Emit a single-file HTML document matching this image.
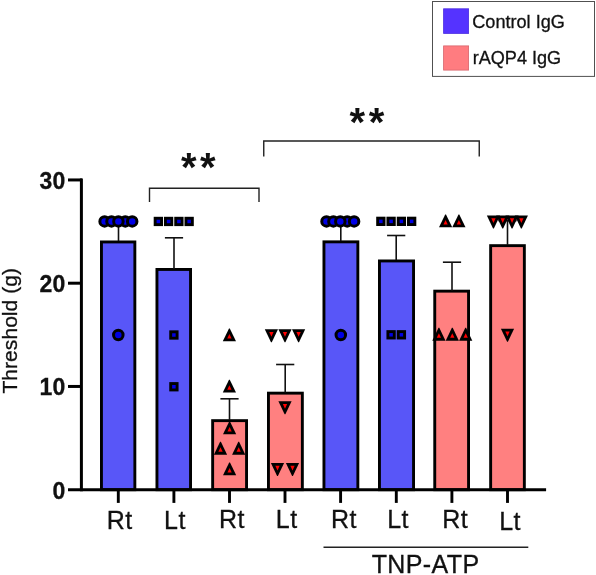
<!DOCTYPE html>
<html><head><meta charset="utf-8"><title>Threshold chart</title>
<style>
html,body{margin:0;padding:0;background:#fff;}
body{width:596px;height:575px;overflow:hidden;font-family:"Liberation Sans",sans-serif;}
svg{display:block;position:absolute;left:0;top:0;}
svg.tx{will-change:transform;}
svg text{font-family:"Liberation Sans",sans-serif;fill:#111;stroke:#111;stroke-width:0.3px;}
</style></head><body>
<svg width="596" height="575" viewBox="0 0 596 575">
<rect x="0" y="0" width="596" height="575" fill="#fff"/>
<rect x="101.45" y="241.95" width="33.40" height="247.75" fill="#5856F8" stroke="#000" stroke-width="2.9"/>
<rect x="156.95" y="269.45" width="33.60" height="220.25" fill="#5856F8" stroke="#000" stroke-width="2.9"/>
<rect x="212.65" y="420.65" width="33.90" height="69.05" fill="#FF8080" stroke="#000" stroke-width="2.9"/>
<rect x="268.45" y="393.15" width="33.90" height="96.55" fill="#FF8080" stroke="#000" stroke-width="2.9"/>
<rect x="323.95" y="241.85" width="33.90" height="247.85" fill="#5856F8" stroke="#000" stroke-width="2.9"/>
<rect x="379.45" y="260.95" width="34.10" height="228.75" fill="#5856F8" stroke="#000" stroke-width="2.9"/>
<rect x="434.75" y="291.15" width="33.80" height="198.55" fill="#FF8080" stroke="#000" stroke-width="2.9"/>
<rect x="490.65" y="245.65" width="33.70" height="244.05" fill="#FF8080" stroke="#000" stroke-width="2.9"/>
<line x1="81.4" y1="178.5" x2="81.4" y2="491.15" stroke="#000" stroke-width="3"/>
<line x1="68" y1="489.7" x2="546.1" y2="489.7" stroke="#000" stroke-width="2.9"/>
<line x1="68" y1="386.45" x2="82" y2="386.45" stroke="#000" stroke-width="3"/>
<line x1="68" y1="283.20" x2="82" y2="283.20" stroke="#000" stroke-width="3"/>
<line x1="68" y1="179.95" x2="82" y2="179.95" stroke="#000" stroke-width="3"/>
<line x1="118.30" y1="489.7" x2="118.30" y2="502.9" stroke="#000" stroke-width="2.9"/>
<line x1="173.90" y1="489.7" x2="173.90" y2="502.9" stroke="#000" stroke-width="2.9"/>
<line x1="229.50" y1="489.7" x2="229.50" y2="502.9" stroke="#000" stroke-width="2.9"/>
<line x1="285.00" y1="489.7" x2="285.00" y2="502.9" stroke="#000" stroke-width="2.9"/>
<line x1="340.60" y1="489.7" x2="340.60" y2="502.9" stroke="#000" stroke-width="2.9"/>
<line x1="396.30" y1="489.7" x2="396.30" y2="502.9" stroke="#000" stroke-width="2.9"/>
<line x1="451.90" y1="489.7" x2="451.90" y2="502.9" stroke="#000" stroke-width="2.9"/>
<line x1="507.50" y1="489.7" x2="507.50" y2="502.9" stroke="#000" stroke-width="2.9"/>
<line x1="118.5" y1="221" x2="118.5" y2="241" stroke="#111" stroke-width="1.6"/>
<line x1="174.0" y1="237.8" x2="174.0" y2="269" stroke="#111" stroke-width="1.6"/>
<line x1="164.9" y1="237.8" x2="183.1" y2="237.8" stroke="#111" stroke-width="1.6"/>
<line x1="229.5" y1="398.8" x2="229.5" y2="420" stroke="#111" stroke-width="1.6"/>
<line x1="220.4" y1="398.8" x2="238.6" y2="398.8" stroke="#111" stroke-width="1.6"/>
<line x1="285.2" y1="364.5" x2="285.2" y2="392.5" stroke="#111" stroke-width="1.6"/>
<line x1="276.09999999999997" y1="364.5" x2="294.3" y2="364.5" stroke="#111" stroke-width="1.6"/>
<line x1="340.8" y1="221" x2="340.8" y2="241" stroke="#111" stroke-width="1.6"/>
<line x1="396.2" y1="235.5" x2="396.2" y2="260" stroke="#111" stroke-width="1.6"/>
<line x1="387.09999999999997" y1="235.5" x2="405.3" y2="235.5" stroke="#111" stroke-width="1.6"/>
<line x1="452.0" y1="262.2" x2="452.0" y2="290.8" stroke="#111" stroke-width="1.6"/>
<line x1="442.9" y1="262.2" x2="461.1" y2="262.2" stroke="#111" stroke-width="1.6"/>
<line x1="507.5" y1="220.6" x2="507.5" y2="245" stroke="#111" stroke-width="1.6"/>
<line x1="498.4" y1="220.6" x2="516.6" y2="220.6" stroke="#111" stroke-width="1.6"/>
<circle cx="104.60" cy="221.45" r="4.75" fill="#0000E4" stroke="#000" stroke-width="3"/>
<circle cx="111.50" cy="221.45" r="4.75" fill="#0000E4" stroke="#000" stroke-width="3"/>
<circle cx="125.30" cy="221.45" r="4.75" fill="#0000E4" stroke="#000" stroke-width="3"/>
<circle cx="118.40" cy="221.45" r="4.75" fill="#0000E4" stroke="#000" stroke-width="3"/>
<circle cx="132.20" cy="221.45" r="4.75" fill="#0000E4" stroke="#000" stroke-width="3"/>
<circle cx="118.30" cy="335.00" r="4.75" fill="#0000E4" stroke="#000" stroke-width="3"/>
<circle cx="326.50" cy="221.45" r="4.75" fill="#0000E4" stroke="#000" stroke-width="3"/>
<circle cx="333.40" cy="221.45" r="4.75" fill="#0000E4" stroke="#000" stroke-width="3"/>
<circle cx="347.20" cy="221.45" r="4.75" fill="#0000E4" stroke="#000" stroke-width="3"/>
<circle cx="340.30" cy="221.45" r="4.75" fill="#0000E4" stroke="#000" stroke-width="3"/>
<circle cx="354.10" cy="221.45" r="4.75" fill="#0000E4" stroke="#000" stroke-width="3"/>
<circle cx="340.80" cy="335.00" r="4.75" fill="#0000E4" stroke="#000" stroke-width="3"/>
<rect x="153.70" y="216.80" width="9.3" height="9.3" fill="#000"/>
<rect x="156.60" y="219.70" width="3.5" height="3.5" fill="#0000E4"/>
<rect x="163.95" y="216.80" width="9.3" height="9.3" fill="#000"/>
<rect x="166.85" y="219.70" width="3.5" height="3.5" fill="#0000E4"/>
<rect x="174.25" y="216.80" width="9.3" height="9.3" fill="#000"/>
<rect x="177.15" y="219.70" width="3.5" height="3.5" fill="#0000E4"/>
<rect x="184.50" y="216.80" width="9.3" height="9.3" fill="#000"/>
<rect x="187.40" y="219.70" width="3.5" height="3.5" fill="#0000E4"/>
<rect x="169.25" y="330.35" width="9.3" height="9.3" fill="#000"/>
<rect x="172.15" y="333.25" width="3.5" height="3.5" fill="#0000E4"/>
<rect x="169.25" y="382.10" width="9.3" height="9.3" fill="#000"/>
<rect x="172.15" y="385.00" width="3.5" height="3.5" fill="#0000E4"/>
<rect x="376.20" y="216.70" width="9.3" height="9.3" fill="#000"/>
<rect x="379.10" y="219.60" width="3.5" height="3.5" fill="#0000E4"/>
<rect x="386.45" y="216.70" width="9.3" height="9.3" fill="#000"/>
<rect x="389.35" y="219.60" width="3.5" height="3.5" fill="#0000E4"/>
<rect x="396.75" y="216.70" width="9.3" height="9.3" fill="#000"/>
<rect x="399.65" y="219.60" width="3.5" height="3.5" fill="#0000E4"/>
<rect x="407.00" y="216.70" width="9.3" height="9.3" fill="#000"/>
<rect x="409.90" y="219.60" width="3.5" height="3.5" fill="#0000E4"/>
<rect x="386.45" y="330.15" width="9.3" height="9.3" fill="#000"/>
<rect x="389.35" y="333.05" width="3.5" height="3.5" fill="#0000E4"/>
<rect x="396.75" y="330.15" width="9.3" height="9.3" fill="#000"/>
<rect x="399.65" y="333.05" width="3.5" height="3.5" fill="#0000E4"/>
<polygon points="222.80,341.35 236.00,341.35 230.40,329.65 229.80,328.45 229.00,328.45 228.40,329.65" fill="#000"/>
<polygon points="227.25,338.45 231.55,338.45 229.40,333.95" fill="#FF0000"/>
<polygon points="222.80,392.60 236.00,392.60 230.40,380.90 229.80,379.70 229.00,379.70 228.40,380.90" fill="#000"/>
<polygon points="227.25,389.70 231.55,389.70 229.40,385.20" fill="#FF0000"/>
<polygon points="223.00,434.35 236.20,434.35 230.60,422.65 230.00,421.45 229.20,421.45 228.60,422.65" fill="#000"/>
<polygon points="227.45,431.45 231.75,431.45 229.60,426.95" fill="#FF0000"/>
<polygon points="213.90,454.65 227.10,454.65 221.50,442.95 220.90,441.75 220.10,441.75 219.50,442.95" fill="#000"/>
<polygon points="218.35,451.75 222.65,451.75 220.50,447.25" fill="#FF0000"/>
<polygon points="232.10,454.65 245.30,454.65 239.70,442.95 239.10,441.75 238.30,441.75 237.70,442.95" fill="#000"/>
<polygon points="236.55,451.75 240.85,451.75 238.70,447.25" fill="#FF0000"/>
<polygon points="223.00,475.35 236.20,475.35 230.60,463.65 230.00,462.45 229.20,462.45 228.60,463.65" fill="#000"/>
<polygon points="227.45,472.45 231.75,472.45 229.60,467.95" fill="#FF0000"/>
<polygon points="264.80,329.20 278.00,329.20 272.40,341.10 271.80,342.30 271.00,342.30 270.40,341.10" fill="#000"/>
<polygon points="269.25,332.10 273.55,332.10 271.40,336.70" fill="#FF0000"/>
<polygon points="278.40,329.20 291.60,329.20 286.00,341.10 285.40,342.30 284.60,342.30 284.00,341.10" fill="#000"/>
<polygon points="282.85,332.10 287.15,332.10 285.00,336.70" fill="#FF0000"/>
<polygon points="292.00,329.20 305.20,329.20 299.60,341.10 299.00,342.30 298.20,342.30 297.60,341.10" fill="#000"/>
<polygon points="296.45,332.10 300.75,332.10 298.60,336.70" fill="#FF0000"/>
<polygon points="278.40,401.20 291.60,401.20 286.00,413.10 285.40,414.30 284.60,414.30 284.00,413.10" fill="#000"/>
<polygon points="282.85,404.10 287.15,404.10 285.00,408.70" fill="#FF0000"/>
<polygon points="270.90,462.90 284.10,462.90 278.50,474.80 277.90,476.00 277.10,476.00 276.50,474.80" fill="#000"/>
<polygon points="275.35,465.80 279.65,465.80 277.50,470.40" fill="#FF0000"/>
<polygon points="285.90,462.90 299.10,462.90 293.50,474.80 292.90,476.00 292.10,476.00 291.50,474.80" fill="#000"/>
<polygon points="290.35,465.80 294.65,465.80 292.50,470.40" fill="#FF0000"/>
<polygon points="439.00,227.35 452.20,227.35 446.60,215.65 446.00,214.45 445.20,214.45 444.60,215.65" fill="#000"/>
<polygon points="443.45,224.45 447.75,224.45 445.60,219.95" fill="#FF0000"/>
<polygon points="452.30,227.35 465.50,227.35 459.90,215.65 459.30,214.45 458.50,214.45 457.90,215.65" fill="#000"/>
<polygon points="456.75,224.45 461.05,224.45 458.90,219.95" fill="#FF0000"/>
<polygon points="432.30,340.75 445.50,340.75 439.90,329.05 439.30,327.85 438.50,327.85 437.90,329.05" fill="#000"/>
<polygon points="436.75,337.85 441.05,337.85 438.90,333.35" fill="#FF0000"/>
<polygon points="445.70,340.75 458.90,340.75 453.30,329.05 452.70,327.85 451.90,327.85 451.30,329.05" fill="#000"/>
<polygon points="450.15,337.85 454.45,337.85 452.30,333.35" fill="#FF0000"/>
<polygon points="459.10,340.75 472.30,340.75 466.70,329.05 466.10,327.85 465.30,327.85 464.70,329.05" fill="#000"/>
<polygon points="463.55,337.85 467.85,337.85 465.70,333.35" fill="#FF0000"/>
<polygon points="486.85,215.45 500.05,215.45 494.45,227.35 493.85,228.55 493.05,228.55 492.45,227.35" fill="#000"/>
<polygon points="491.30,218.35 495.60,218.35 493.45,222.95" fill="#FF0000"/>
<polygon points="496.15,215.45 509.35,215.45 503.75,227.35 503.15,228.55 502.35,228.55 501.75,227.35" fill="#000"/>
<polygon points="500.60,218.35 504.90,218.35 502.75,222.95" fill="#FF0000"/>
<polygon points="505.45,215.45 518.65,215.45 513.05,227.35 512.45,228.55 511.65,228.55 511.05,227.35" fill="#000"/>
<polygon points="509.90,218.35 514.20,218.35 512.05,222.95" fill="#FF0000"/>
<polygon points="514.75,215.45 527.95,215.45 522.35,227.35 521.75,228.55 520.95,228.55 520.35,227.35" fill="#000"/>
<polygon points="519.20,218.35 523.50,218.35 521.35,222.95" fill="#FF0000"/>
<polygon points="500.90,328.70 514.10,328.70 508.50,340.60 507.90,341.80 507.10,341.80 506.50,340.60" fill="#000"/>
<polygon points="505.35,331.60 509.65,331.60 507.50,336.20" fill="#FF0000"/>
<polyline points="149.5,202.1 149.5,188.3 259,188.3 259,202.1" fill="none" stroke="#222" stroke-width="1.4"/>
<polyline points="263.75,156.4 263.75,141.0 479.25,141.0 479.25,156.4" fill="none" stroke="#222" stroke-width="1.4"/>
<line x1="323.5" y1="547.3" x2="528.3" y2="547.3" stroke="#222" stroke-width="1.5"/>
<rect x="432.5" y="1.5" width="162" height="74.9" fill="#fff" stroke="#505050" stroke-width="1"/>
<rect x="443.6" y="8.8" width="25" height="24.6" fill="#5533FF" stroke="#4a2ce0" stroke-width="0.8"/>
<rect x="443.6" y="45.9" width="25" height="24.2" fill="#FF7C80" stroke="#d8646c" stroke-width="0.8"/>
</svg>
<svg class="tx" width="596" height="575" viewBox="0 0 596 575">
<text x="472.3" y="28.2" font-size="18.1" font-weight="normal" text-anchor="start" >Control IgG</text>
<text x="472.7" y="64.1" font-size="18.1" font-weight="normal" text-anchor="start" >rAQP4 IgG</text>
<text x="65.2" y="498.59999999999997" font-size="23" font-weight="bold" text-anchor="end" >0</text>
<text x="65.2" y="395.34999999999997" font-size="23" font-weight="bold" text-anchor="end" >10</text>
<text x="65.2" y="292.09999999999997" font-size="23" font-weight="bold" text-anchor="end" >20</text>
<text x="65.2" y="188.85" font-size="23" font-weight="bold" text-anchor="end" >30</text>
<text x="119.7" y="528.9" font-size="25" font-weight="normal" text-anchor="middle" letter-spacing="0.5">Rt</text>
<text x="175.0" y="528.9" font-size="25" font-weight="normal" text-anchor="middle" letter-spacing="0.5">Lt</text>
<text x="232.0" y="528.4" font-size="25" font-weight="normal" text-anchor="middle" letter-spacing="0.5">Rt</text>
<text x="286.8" y="528.4" font-size="25" font-weight="normal" text-anchor="middle" letter-spacing="0.5">Lt</text>
<text x="343.9" y="528.4" font-size="25" font-weight="normal" text-anchor="middle" letter-spacing="0.5">Rt</text>
<text x="398.1" y="528.4" font-size="25" font-weight="normal" text-anchor="middle" letter-spacing="0.5">Lt</text>
<text x="455.3" y="528.4" font-size="25" font-weight="normal" text-anchor="middle" letter-spacing="0.5">Rt</text>
<text x="510.1" y="530.0" font-size="25" font-weight="normal" text-anchor="middle" letter-spacing="0.5">Lt</text>
<text x="425.6" y="572.5" font-size="25" font-weight="normal" text-anchor="middle" letter-spacing="0.4">TNP-ATP</text>
<text x="0" y="0" font-size="21.1" font-weight="normal" text-anchor="middle" transform="translate(17.3,330.8) rotate(-90)">Threshold (g)</text>
<text x="180.9" y="181.3" font-size="40" font-weight="bold" text-anchor="start" style="stroke:none">*</text>
<text x="200.0" y="181.3" font-size="40" font-weight="bold" text-anchor="start" style="stroke:none">*</text>
<text x="349.6" y="136.1" font-size="40" font-weight="bold" text-anchor="start" style="stroke:none">*</text>
<text x="368.7" y="136.1" font-size="40" font-weight="bold" text-anchor="start" style="stroke:none">*</text>
</svg>
</body></html>
